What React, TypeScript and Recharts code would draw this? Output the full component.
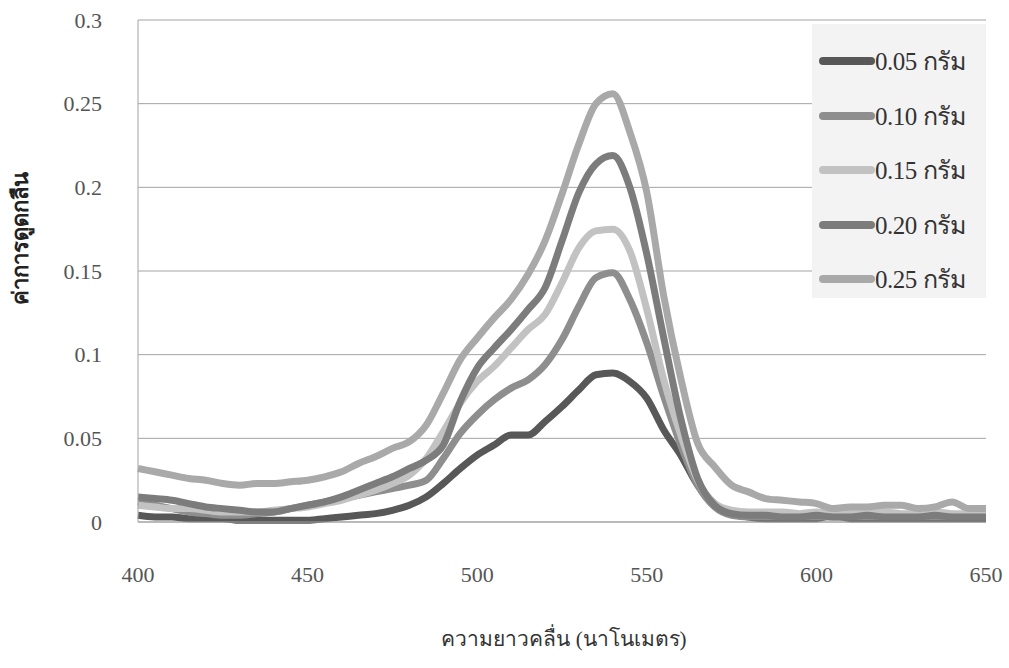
import React from "react";
import { LineChart, Line, XAxis, YAxis, CartesianGrid, Legend, Label } from "recharts";

// wavelength (nm), every 5 nm
const wavelengths = [
  400, 405, 410, 415, 420, 425, 430, 435, 440, 445, 450, 455, 460, 465, 470, 475, 480, 485, 490, 495,
  500, 505, 510, 515, 520, 525, 530, 535, 540, 545, 550, 555, 560, 565, 570, 575, 580, 585, 590, 595,
  600, 605, 610, 615, 620, 625, 630, 635, 640, 645, 650,
];

const abs005 = [
  0.004, 0.003, 0.003, 0.002, 0.002, 0.002, 0.001, 0.001, 0.001, 0.001, 0.001, 0.002, 0.003, 0.004, 0.005, 0.007, 0.01, 0.015, 0.023, 0.032,
  0.04, 0.046, 0.052, 0.052, 0.06, 0.069, 0.079, 0.088, 0.089, 0.084, 0.074, 0.055, 0.04, 0.022, 0.011, 0.005, 0.003, 0.002, 0.002, 0.002,
  0.002, 0.004, 0.002, 0.002, 0.002, 0.002, 0.002, 0.002, 0.002, 0.002, 0.002,
];

const abs010 = [
  0.012, 0.01, 0.008, 0.006, 0.005, 0.004, 0.004, 0.005, 0.006, 0.008, 0.01, 0.012, 0.014, 0.016, 0.018, 0.02, 0.022, 0.025, 0.038, 0.053,
  0.064, 0.073, 0.08, 0.085, 0.094, 0.109, 0.129, 0.146, 0.149, 0.133, 0.107, 0.075, 0.046, 0.022, 0.009, 0.004, 0.003, 0.003, 0.003, 0.003,
  0.003, 0.003, 0.003, 0.003, 0.003, 0.003, 0.003, 0.003, 0.003, 0.003, 0.003,
];

const abs015 = [
  0.01, 0.009, 0.008, 0.008, 0.007, 0.006, 0.006, 0.006, 0.007, 0.008, 0.009, 0.011, 0.013, 0.016, 0.019, 0.023, 0.028, 0.038, 0.054, 0.071,
  0.084, 0.093, 0.104, 0.115, 0.124, 0.143, 0.164, 0.174, 0.175, 0.162, 0.127, 0.085, 0.052, 0.025, 0.011, 0.007, 0.006, 0.006, 0.006, 0.005,
  0.006, 0.005, 0.006, 0.005, 0.006, 0.005, 0.005, 0.006, 0.005, 0.005, 0.005,
];

const abs020 = [
  0.015, 0.014, 0.013, 0.011, 0.009, 0.008, 0.007, 0.006, 0.006, 0.008, 0.01, 0.012, 0.015, 0.019, 0.023, 0.027, 0.032, 0.037, 0.046, 0.072,
  0.092, 0.104, 0.115, 0.127, 0.14, 0.168, 0.197, 0.214, 0.219, 0.2, 0.16, 0.11, 0.062, 0.026, 0.01, 0.005, 0.004, 0.004, 0.003, 0.003,
  0.004, 0.003, 0.003, 0.004, 0.003, 0.003, 0.003, 0.004, 0.003, 0.003, 0.003,
];

const abs025 = [
  0.032, 0.03, 0.028, 0.026, 0.025, 0.023, 0.022, 0.023, 0.023, 0.024, 0.025, 0.027, 0.03, 0.035, 0.039, 0.044, 0.048, 0.058, 0.077, 0.097,
  0.11, 0.122, 0.133, 0.148, 0.168, 0.196, 0.226, 0.25, 0.256, 0.233, 0.197, 0.135, 0.086, 0.047, 0.033, 0.022, 0.018, 0.014, 0.013, 0.012,
  0.011, 0.008, 0.009, 0.009, 0.01, 0.01, 0.008, 0.009, 0.012, 0.008, 0.008,
];

const xTicks = [400, 450, 500, 550, 600, 650];
const yTicks = [0, 0.05, 0.1, 0.15, 0.2, 0.25, 0.3];

const series = [
  { key: "s005", name: "0.05 กรัม", values: abs005, color: "#585858" },
  { key: "s010", name: "0.10 กรัม", values: abs010, color: "#8e8e8e" },
  { key: "s015", name: "0.15 กรัม", values: abs015, color: "#c2c2c2" },
  { key: "s020", name: "0.20 กรัม", values: abs020, color: "#7c7c7c" },
  { key: "s025", name: "0.25 กรัม", values: abs025, color: "#a9a9a9" },
];

const data = wavelengths.map((wl, i) => {
  const row: Record<string, number> = { wl };
  series.forEach((s) => (row[s.key] = s.values[i]));
  return row;
});

const FONT = "'Liberation Serif', 'Times New Roman', serif";

function LegendBox() {
  return (
    <div
      style={{
        background: "#f3f3f3",
        width: "100%",
        height: "100%",
        boxSizing: "border-box",
        paddingTop: 10,
        fontFamily: FONT,
      }}
    >
      {series.map((s) => (
        <div key={s.key} style={{ display: "flex", alignItems: "center", height: 54.5 }}>
          <div
            style={{
              width: 56,
              height: 8,
              borderRadius: 4,
              background: s.color,
              marginLeft: 7,
            }}
          />
          <span style={{ fontSize: 25, color: "#333", marginLeft: 0, letterSpacing: -0.5 }}>{s.name}</span>
        </div>
      ))}
    </div>
  );
}

export default function App() {
  return (
    <div style={{ position: "absolute", left: 0, top: 0, background: "#fff" }}>
      <LineChart
        width={1009}
        height={668}
        data={data}
        margin={{ top: 20, right: 23, left: 0, bottom: 0 }}
      >
        <CartesianGrid vertical={false} stroke="#a3a3a3" strokeWidth={1} />
        <XAxis
          dataKey="wl"
          type="number"
          domain={[400, 650]}
          ticks={xTicks}
          height={146}
          tickLine={false}
          tickSize={0}
          tickMargin={44}
          axisLine={{ stroke: "#a3a3a3" }}
          tick={{ fill: "#555", fontSize: 22, fontFamily: FONT }}
        >
          <Label
            content={() => (
              <text x={564} y={646} textAnchor="middle" fill="#333" fontSize={21} fontFamily={FONT}>
                ความยาวคลื่น (นาโนเมตร)
              </text>
            )}
          />
        </XAxis>
        <YAxis
          type="number"
          domain={[0, 0.3]}
          ticks={yTicks}
          width={138}
          tickLine={false}
          tickSize={0}
          tickMargin={36}
          axisLine={{ stroke: "#a3a3a3" }}
          tick={{ fill: "#555", fontSize: 22, fontFamily: FONT }}
        >
          <Label
            content={() => (
              <text
                x={28}
                y={238}
                transform="rotate(-90 28 238)"
                textAnchor="middle"
                fill="#222"
                fontSize={22}
                fontWeight="bold"
                fontFamily={FONT}
              >
                ค่าการดูดกลืน
              </text>
            )}
          />
        </YAxis>
        <Legend
          layout="vertical"
          align="center"
          verticalAlign="middle"
          wrapperStyle={{ left: 812, top: 24, width: 174, height: 274 }}
          content={() => <LegendBox />}
        />
        {series.map((s) => (
          <Line
            key={s.key}
            dataKey={s.key}
            name={s.name}
            stroke={s.color}
            strokeWidth={7}
            strokeLinejoin="round"
            dot={false}
            type="monotone"
            isAnimationActive={false}
          />
        ))}
      </LineChart>
    </div>
  );
}
